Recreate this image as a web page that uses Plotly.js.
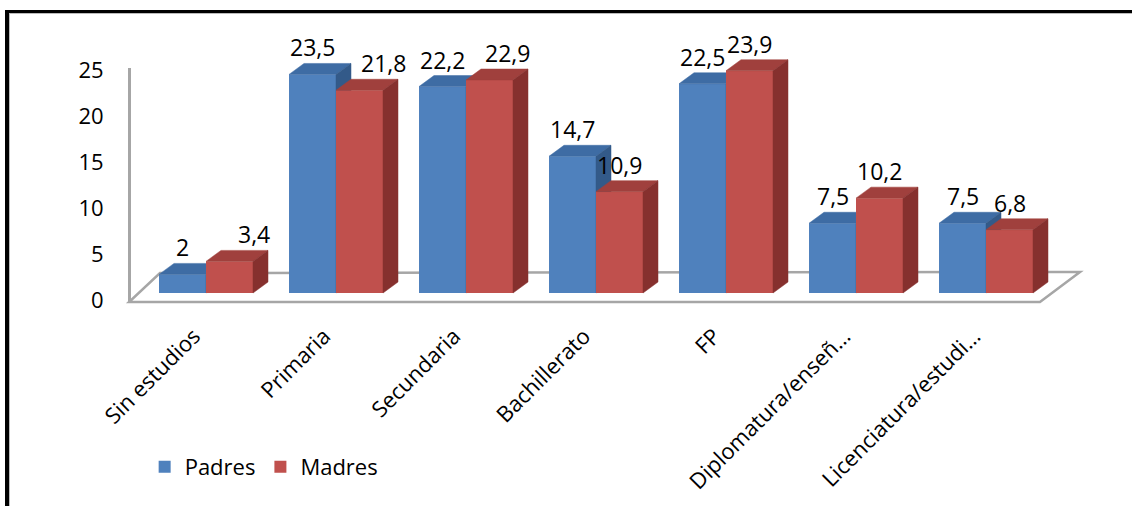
<!DOCTYPE html>
<html>
<head>
<meta charset="utf-8">
<script src="https://cdn.plot.ly/plotly-3.0.1.min.js"></script>
<style>
  html, body { margin: 0; padding: 0; background: #fff; }
  #wrap { position: relative; width: 1132px; height: 506px; overflow: hidden; }
  #plot { position: absolute; left: 0; top: 0; width: 1132px; height: 506px; }
  #frame { position: absolute; left: 5px; top: 10px; width: 1200px; height: 600px;
           border-left: 4px solid #000; border-top: 3px solid #000; pointer-events: none;
           box-shadow: inset 1px 1px 0 #bbb; }
</style>
</head>
<body>
<div id="wrap">
  <div id="plot"></div>
  <div id="frame"></div>
</div>
<script>
// ---------- data ----------
const categories = ['Sin estudios', 'Primaria', 'Secundaria', 'Bachillerato', 'FP',
                    'Diplomatura/enseñ…', 'Licenciatura/estudi…'];
const padres = [2, 23.5, 22.2, 14.7, 22.5, 7.5, 7.5];
const madres = [3.4, 21.8, 22.9, 10.9, 23.9, 10.2, 6.8];
const yTicks = [0, 5, 10, 15, 20, 25];

// ---------- styling / geometry ----------
const FONT = 'Open Sans, Noto Sans, sans-serif';
const W = 0.3615;          // bar width (x units)
const DX = 0.1154;         // 3D depth, x units
const DY = 1.183;          // 3D depth, y units
const colors = {
  Padres: { front: '#4F81BD', top: '#3E6CA4', side: '#335A89' },
  Madres: { front: '#C0504D', top: '#A0403D', side: '#86302E' }
};
// horizontal nudges (px) of the Madres data labels, as placed in the original
const madresLabelNudge = [24, 24, 18, 0, 0, 0, 0];
const xRange = [-0.7385, 6.8769];
const yRange = [-1.828, 29.355];

const idx = categories.map((_, i) => i);
const fmt = v => String(v).replace('.', ',');

function faces(vals, off) {
  const tx = [], ty = [], sx = [], sy = [];
  vals.forEach((v, i) => {
    const xl = i + off, xr = xl + W;
    tx.push(xl, xr, xr + DX, xl + DX, xl, null);
    ty.push(v, v, v + DY, v + DY, v, null);
    sx.push(xr, xr + DX, xr + DX, xr, xr, null);
    sy.push(0, DY, v + DY, v, 0, null);
  });
  return { tx, ty, sx, sy };
}

function seriesTraces(name, vals, off, xa, ya) {
  const c = colors[name];
  const f = faces(vals, off);
  return [
    { type: 'bar', name: name, x: idx, y: vals, offset: off, width: W,
      marker: { color: c.front, line: { width: 0 } }, xaxis: xa, yaxis: ya,
      hoverinfo: 'skip' },
    { type: 'scatter', mode: 'lines', x: f.tx, y: f.ty, fill: 'toself', fillcolor: c.top,
      line: { color: c.top, width: 0.5 }, showlegend: false, xaxis: xa, yaxis: ya, hoverinfo: 'skip' },
    { type: 'scatter', mode: 'lines', x: f.sx, y: f.sy, fill: 'toself', fillcolor: c.side,
      line: { color: c.side, width: 0.5 }, showlegend: false, xaxis: xa, yaxis: ya, hoverinfo: 'skip' }
  ];
}

const traces = [
  ...seriesTraces('Padres', padres, -W, 'x', 'y'),
  ...seriesTraces('Madres', madres, 0, 'x2', 'y3'),
  { type: 'scatter', x: [null], y: [null], xaxis: 'x', yaxis: 'y2', showlegend: false, hoverinfo: 'skip' }
];

// data labels
const annotations = [];
[padres, madres].forEach((vals, s) => {
  vals.forEach((v, i) => {
    annotations.push({
      x: i + (s === 0 ? -W / 2 : W / 2), y: v, xref: 'x', yref: 'y',
      text: fmt(v), showarrow: false, yanchor: 'bottom', yshift: 9,
      xshift: s === 0 ? 0 : madresLabelNudge[i],
      font: { family: FONT, size: 23, color: '#000' }
    });
  });
});

// floor of the 3D plot area (decoration)
const floor = {
  type: 'path', xref: 'x', yref: 'y', layer: 'below',
  path: 'M -0.592,-0.968 L 6.415,-0.968 L 6.723,2.258 L -0.354,2.15 Z',
  fillcolor: '#FFFFFF', line: { color: '#A6A6A6', width: 2.5 }
};

const layout = {
  width: 1132, height: 506,
  margin: { l: 110, r: 32, t: 20, b: 196 },
  paper_bgcolor: '#FFFFFF', plot_bgcolor: 'rgba(0,0,0,0)',
  showlegend: true,
  barmode: 'overlay',
  font: { family: FONT, size: 22, color: '#000' },
  xaxis: { range: xRange, autorange: false, tickvals: idx, ticktext: categories,
           tickangle: -45, showgrid: false, zeroline: false, showline: false, ticks: '',
           ticklabelstandoff: 8, ticklabelshift: -12,
           tickfont: { family: FONT, size: 22, color: '#000' }, anchor: 'y' },
  yaxis: { range: yRange, autorange: false, showgrid: false, zeroline: false,
           showline: false, showticklabels: false, ticks: '' },
  yaxis2: { domain: [0.0276, 0.8345], range: [-0.217, 25.217], autorange: false,
            anchor: 'free', position: 0.0192, tickvals: yTicks, showgrid: false,
            zeroline: false, showline: true, linecolor: '#A6A6A6', linewidth: 2.5,
            ticks: '', ticklabelstandoff: 20,
            tickfont: { family: FONT, size: 22, color: '#000' } },
  xaxis2: { range: xRange, autorange: false, overlaying: 'x', anchor: 'y3', visible: false },
  yaxis3: { range: yRange, autorange: false, overlaying: 'y', anchor: 'x2', visible: false },
  legend: { orientation: 'h', x: 0.035, xanchor: 'left', y: -0.541, yanchor: 'middle',
            font: { family: FONT, size: 22, color: '#000' }, bgcolor: 'rgba(0,0,0,0)' },
  shapes: [floor],
  annotations: annotations
};

Plotly.newPlot('plot', traces, layout, { staticPlot: true, displayModeBar: false });
</script>
</body>
</html>
